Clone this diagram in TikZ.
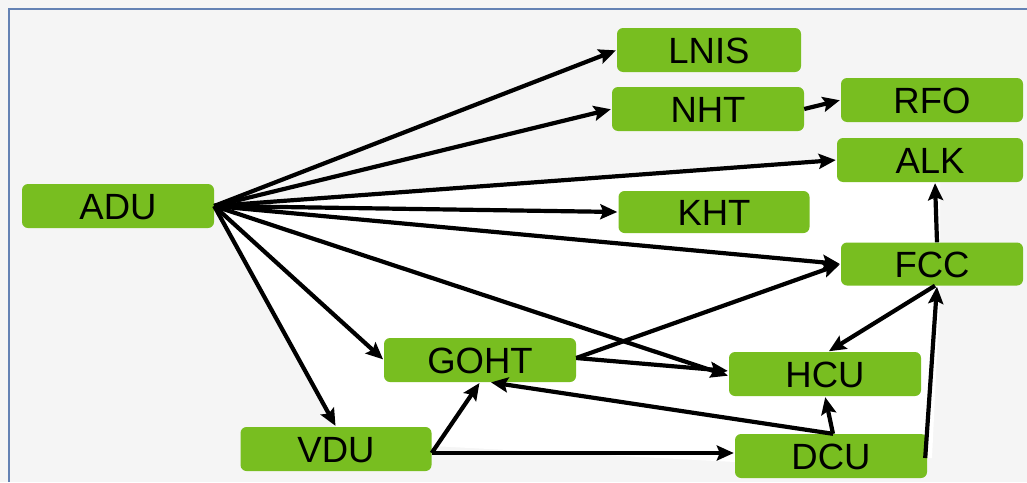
\documentclass[tikz,border=0pt]{standalone}
\usepackage{fontspec}
\setmainfont{Liberation Sans}
\usetikzlibrary{arrows.meta}
\definecolor{boxgreen}{RGB}{120,190,32}
\definecolor{framebg}{RGB}{245,245,245}
\definecolor{frameblue}{RGB}{100,130,180}
\tikzset{
  box/.style={fill=boxgreen, rounded corners=6pt, inner sep=0pt, minimum height=44pt,
    text height=26.1pt, text depth=0pt, font=\fontsize{36.5}{40}\selectfont, text=black},
  flow/.style={line width=4.2pt, -{Stealth[length=17pt,width=15pt,inset=3pt]}, shorten >=1pt}
}
\begin{document}
\begin{tikzpicture}[x=1pt,y=-1pt]
\useasboundingbox (0,0) rectangle (1027,482);
\fill[framebg] (0,0) rectangle (1027,482);
\draw[frameblue, line width=2pt] (9,482) -- (9,9) -- (1027,9);
% white area enclosed by the connectors
\fill[white] (215,207) -- (835,160) -- (940,182) -- (940,290) -- (932,458) -- (735,462) -- (432,446) -- (333,426) -- cycle;

\node[box, minimum width=192pt] (ADU)  at (118,206) {ADU};
\node[box, minimum width=184pt] (LNIS) at (709,50)  {LNIS};
\node[box, minimum width=192pt] (NHT)  at (708,109) {NHT};
\node[box, minimum width=182pt] (RFO)  at (932,100) {RFO};
\node[box, minimum width=186pt] (ALK)  at (930,160) {ALK};
\node[box, minimum width=191pt, minimum height=42pt] (KHT)  at (714,212) {KHT};
\node[box, minimum width=182pt, minimum height=43pt] (FCC)  at (932,264) {FCC};
\node[box, minimum width=192pt] (HCU)  at (825,374) {HCU};
\node[box, minimum width=192pt] (DCU)  at (831,456) {DCU};
\node[box, minimum width=192pt] (GOHT) at (480,360) {GOHT};
\node[box, minimum width=191pt] (VDU)  at (336,449) {VDU};

\draw[flow] (ADU.east) -- (LNIS.west);
\draw[flow] (ADU.east) -- (NHT.west);
\draw[flow] (ADU.east) -- (ALK.west);
\draw[flow] (ADU.east) -- (KHT.west);
\draw[flow] (ADU.east) -- (FCC.west);
\draw[flow] (ADU.east) -- ([yshift=-2pt]HCU.west);
\draw[flow] (ADU.east) -- (GOHT.west);
\draw[flow] (ADU.east) -- (VDU.north);
\draw[flow] (NHT.east) -- (RFO.west);
\draw[flow] ([xshift=5pt]FCC.north) -- ([xshift=5pt]ALK.south);
\draw[flow] ([yshift=2pt]GOHT.east) -- (FCC.west);
\draw[flow] ([yshift=2pt]GOHT.east) -- ([yshift=3pt]HCU.west);
\draw[flow] ([xshift=3pt]FCC.south) -- ([xshift=3pt]HCU.north);
\draw[flow] ([xshift=2pt]DCU.north) -- (HCU.south);
\draw[flow] ([xshift=2pt]DCU.north) -- ([xshift=10pt]GOHT.south);
\draw[flow] ([yshift=-4pt]VDU.east) -- (GOHT.south);
\draw[flow] ([yshift=-4pt]VDU.east) -- ([yshift=3pt]DCU.west);
\draw[flow] ([xshift=-2pt,yshift=-2pt]DCU.east) -- ([xshift=5pt]FCC.south);
\end{tikzpicture}
\end{document}
